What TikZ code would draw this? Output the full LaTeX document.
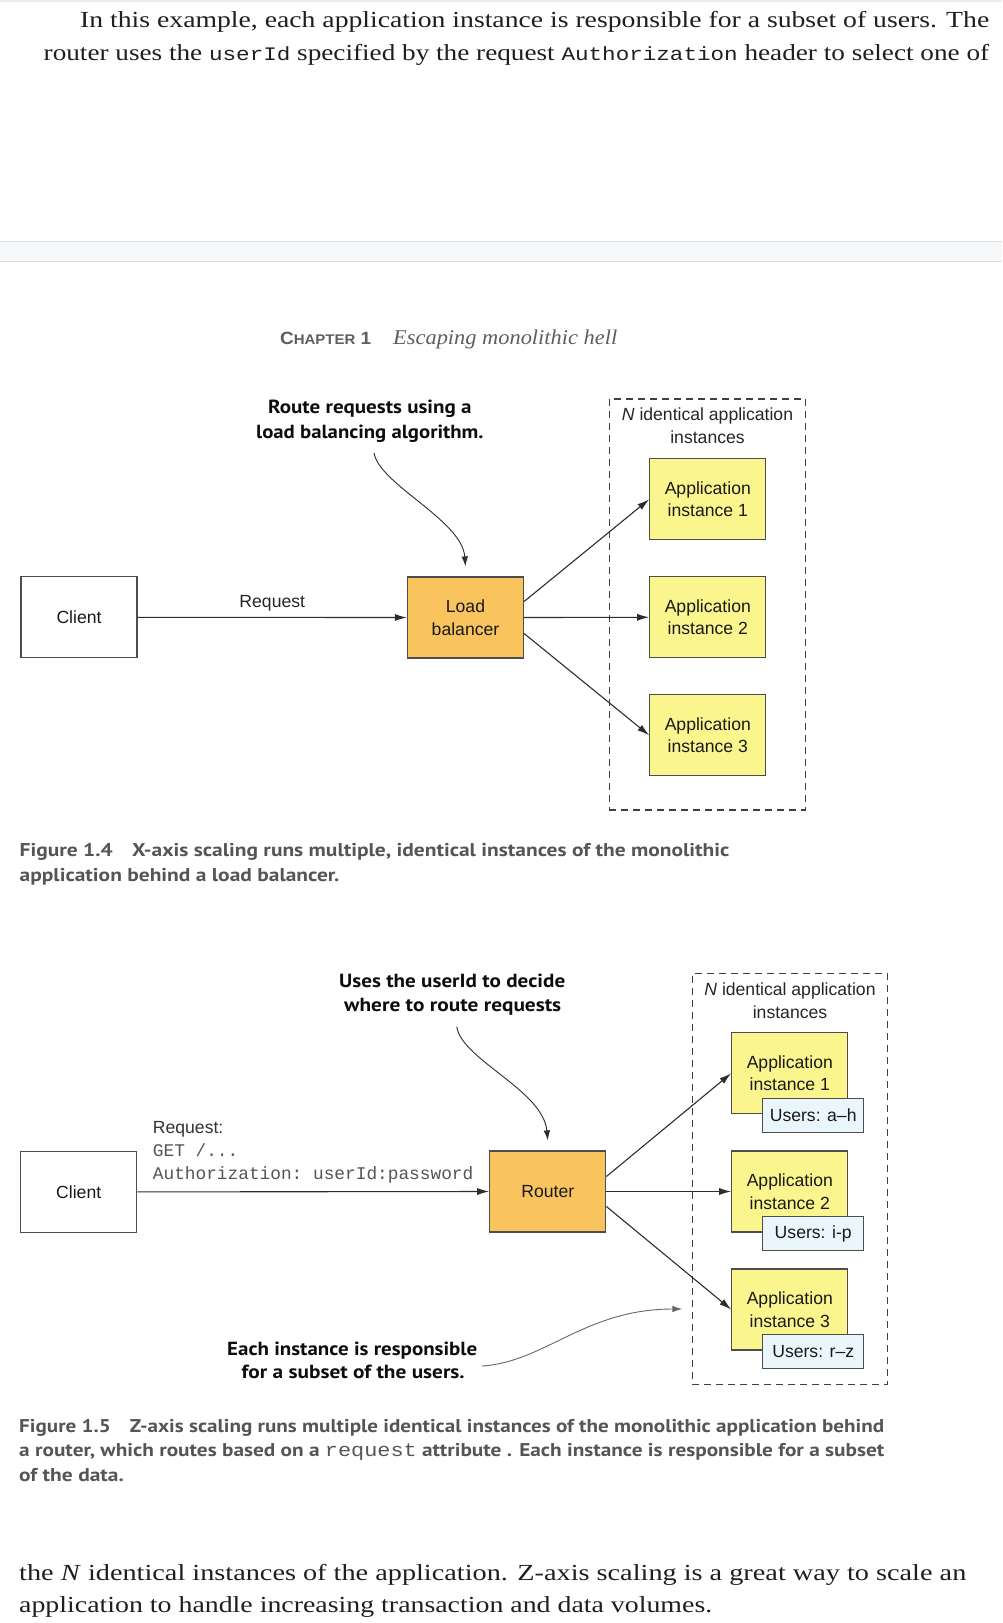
\documentclass[tikz,border=0pt]{standalone}
\usepackage{fontspec}
\usepackage{graphicx}
\setmainfont{Liberation Serif}
\setsansfont{Liberation Sans}
\setmonofont{Liberation Mono}
\newfontfamily\annfont{PT Sans}
\usetikzlibrary{arrows.meta,calc}
\definecolor{lbfill}{RGB}{249,195,94}
\definecolor{appfill}{RGB}{250,245,140}
\definecolor{usrfill}{RGB}{234,245,252}
\definecolor{boxline}{RGB}{77,77,77}
\definecolor{conncol}{RGB}{45,45,45}
\definecolor{capgray}{RGB}{85,85,85}
\definecolor{headgray}{RGB}{94,94,94}
\definecolor{bandfill}{RGB}{246,248,250}
\definecolor{bandline}{RGB}{214,223,232}
\definecolor{monogray}{RGB}{85,85,85}
\newcommand{\fitw}[2]{\resizebox{#1}{\height}{#2}}
\newcommand{\capfont}{\annfont\bfseries\fontsize{18.5}{24}\selectfont}
\newlength{\capwd}
\newlength{\capref}
\begin{document}
\settowidth{\capwd}{\capfont Figure 1.5\hspace{0.9em}Z-axis scaling runs multiple identical instances of the monolithic application behind}%
\setlength{\capref}{879pt}%
\pgfmathsetmacro{\capsx}{\capref/\capwd}%
\begin{tikzpicture}[x=1pt,y=-1pt,
 box/.style={draw=boxline, line width=1.2pt, inner sep=0pt, minimum width=116pt, minimum height=81pt, font=\sffamily\fontsize{17.6}{22.4}\selectfont, align=center, text=black!90},
 clientbox/.style={box, fill=white},
 orangebox/.style={box, fill=lbfill},
 appbox/.style={box, fill=appfill},
 usersbox/.style={box, fill=usrfill, minimum width=101pt, minimum height=34pt},
 grpbox/.style={draw=black!75, line width=1.1pt, dash pattern=on 7pt off 5pt, inner sep=0pt},
 conn/.style={draw=conncol, line width=1.1pt, -{Latex[length=12pt,width=7pt]}},
 curvy/.style={draw=conncol, line width=0.9pt, -{Latex[length=10pt,width=6.5pt]}},
 ann/.style={inner sep=0pt, anchor=base west, font=\annfont\bfseries\fontsize{19}{23}\selectfont, text=black!95},
 captext/.style={inner sep=0pt, anchor=base west, font=\capfont, text=capgray},
 body/.style={inner sep=0pt, anchor=base west, font=\rmfamily\fontsize{23}{28}\selectfont, text=black!88},
 lbl/.style={inner sep=0pt, font=\sffamily\fontsize{17.6}{22.4}\selectfont, text=black!85},
 mono/.style={inner sep=0pt, anchor=base west, font=\ttfamily\fontsize{17.8}{22}\selectfont, text=monogray},
]
\fill[white] (0,0) rectangle (1002,1623);
\useasboundingbox (0,0) rectangle (1002,1623);
\fill[black!7] (0,0) rectangle (1002,2);
% band
\fill[bandfill] (0,240.7) rectangle (1002,261);
\draw[bandline, line width=1pt] (0,241) -- (1002,241);
\draw[bandline, line width=1pt] (0,261) -- (1002,261);

% body text
\node[body] (p1) at (80,27) {\fitw{909pt}{In this example, each application instance is responsible for a subset of users. The}};
\node[body] (p2) at (43.5,60) {\fitw{945.5pt}{router uses the {\ttfamily\fontsize{19.1}{28}\selectfont userId} specified by the request {\ttfamily\fontsize{19.1}{28}\selectfont Authorization} header to select one of}};

% chapter heading
\node[inner sep=0pt, anchor=base west, text=headgray, font=\sffamily\bfseries] (chap) at (280,344) {\fitw{91pt}{{\fontsize{17.7}{20}\selectfont C}{\fontsize{14}{20}\selectfont HAPTER}{\fontsize{17.7}{20}\selectfont\ 1}}};
\node[inner sep=0pt, anchor=base west, text=headgray] (chaptitle) at (393,344) {\fitw{224pt}{\rmfamily\itshape\fontsize{21}{24}\selectfont Escaping monolithic hell}};

% ---------- Figure 1.4 ----------
\node[grpbox, minimum width=196.4pt, minimum height=411pt] (grp1) at (707.5,604.5) {};
\node[lbl, anchor=base] (grp1t1) at (707.5,420.7) {\textit{N} identical application};
\node[lbl, anchor=base] (grp1t2) at (707.5,443.3) {instances};
\node[clientbox] (client1) at (79,617.3) {Client};
\node[orangebox] (lb) at (465.5,617.5) {Load\\balancer};
\node[appbox] (app11) at (707.8,499.3) {Application\\instance 1};
\node[appbox] (app12) at (707.8,617.3) {Application\\instance 2};
\node[appbox] (app13) at (707.8,735.3) {Application\\instance 3};
\draw[conn] (client1.east) -- node[lbl, anchor=base, yshift=10pt] (req1) {Request} (lb.west);
\draw[conn] ([yshift=16pt]lb.east) -- (app11.west);
\draw[conn] (lb.east) -- (app12.west);
\draw[conn] ([yshift=-16pt]lb.east) -- (app13.west);
\node[ann] (ann1a) at (268,413.3) {\fitw{203.4pt}{Route requests using a}};
\node[ann] (ann1b) at (256,438) {\fitw{227.3pt}{load balancing algorithm.}};
\coordinate (ann1s) at (374,453);
\draw[curvy] (ann1s) .. controls (380,485) and (462,520) .. ([yshift=10pt]lb.north);

% caption 1.4
\node[captext] (cap4a) at (19.5,856) {\scalebox{\capsx}[1]{Figure 1.4\hspace{0.9em}X-axis scaling runs multiple, identical instances of the monolithic}};
\node[captext] (cap4b) at (19.5,881) {\scalebox{\capsx}[1]{application behind a load balancer.}};

% ---------- Figure 1.5 ----------
\node[grpbox, minimum width=195.3pt, minimum height=411pt] (grp2) at (789.7,1178.8) {};
\node[lbl, anchor=base] (grp2t1) at (790,995) {\textit{N} identical application};
\node[lbl, anchor=base] (grp2t2) at (790,1018.3) {instances};
\node[clientbox] (client2) at (78.7,1191.9) {Client};
\node[orangebox] (router) at (547.8,1191.5) {Router};
\node[appbox] (app21) at (789.8,1073.3) {Application\\instance 1};
\node[appbox] (app22) at (789.8,1191.5) {Application\\instance 2};
\node[appbox] (app23) at (789.8,1309.5) {Application\\instance 3};
\node[usersbox] (usr1) at (813.2,1115.5) {Users: a--h};
\node[usersbox] (usr2) at (813.2,1233.7) {Users: i-p};
\node[usersbox] (usr3) at (813.2,1351.3) {Users: r--z};
\node[lbl, anchor=base west, text=black!80] (reqa) at (152.7,1133.3) {Request:};
\node[mono] (reqb) at (152.7,1156.7) {GET /...};
\node[mono] (reqc) at (152.7,1179.3) {Authorization: userId:password};
\draw[conn] (client2.east) -- (router.west);
\draw[conn] ([yshift=15pt]router.east) -- (app21.west);
\draw[conn] (router.east) -- (app22.west);
\draw[conn] ([yshift=-15pt]router.east) -- (app23.west);
\node[ann] (ann2a) at (339,987.3) {\fitw{226pt}{Uses the userId to decide}};
\node[ann] (ann2b) at (344,1011.7) {\fitw{217pt}{where to route requests}};
\coordinate (ann2s) at (456.7,1026.7);
\draw[curvy] (ann2s) .. controls (462,1060) and (543,1090) .. ([yshift=10pt]router.north);
\node[ann] (ann3a) at (227,1355) {\fitw{250pt}{Each instance is responsible}};
\node[ann] (ann3b) at (241.5,1378.3) {\fitw{223pt}{for a subset of the users.}};
\coordinate (ann3s) at (482,1366);
\coordinate (ann3e) at (682.3,1309);
\draw[curvy, draw=black!60] (ann3s) .. controls (545,1362) and (585,1309) .. (ann3e);

\node[captext] (cap5a) at (19,1432.7) {\fitw{865pt}{Figure 1.5\hspace{0.9em}Z-axis scaling runs multiple identical instances of the monolithic application behind}};
\node[captext] (cap5b) at (19,1456.7) {\fitw{865pt}{a router, which routes based on a {\ttfamily\mdseries\fontsize{19}{24}\selectfont request} attribute . Each instance is responsible for a subset}};
\node[captext] (cap5c) at (19,1481.7) {\scalebox{\capsx}[1]{of the data.}};

% bottom body text
\node[body] (p3) at (19,1580.7) {\fitw{947pt}{the \textit{N} identical instances of the application. Z-axis scaling is a great way to scale an}};
\node[body] (p4) at (19,1612) {\fitw{693pt}{application to handle increasing transaction and data volumes.}};
\end{tikzpicture}
\end{document}
